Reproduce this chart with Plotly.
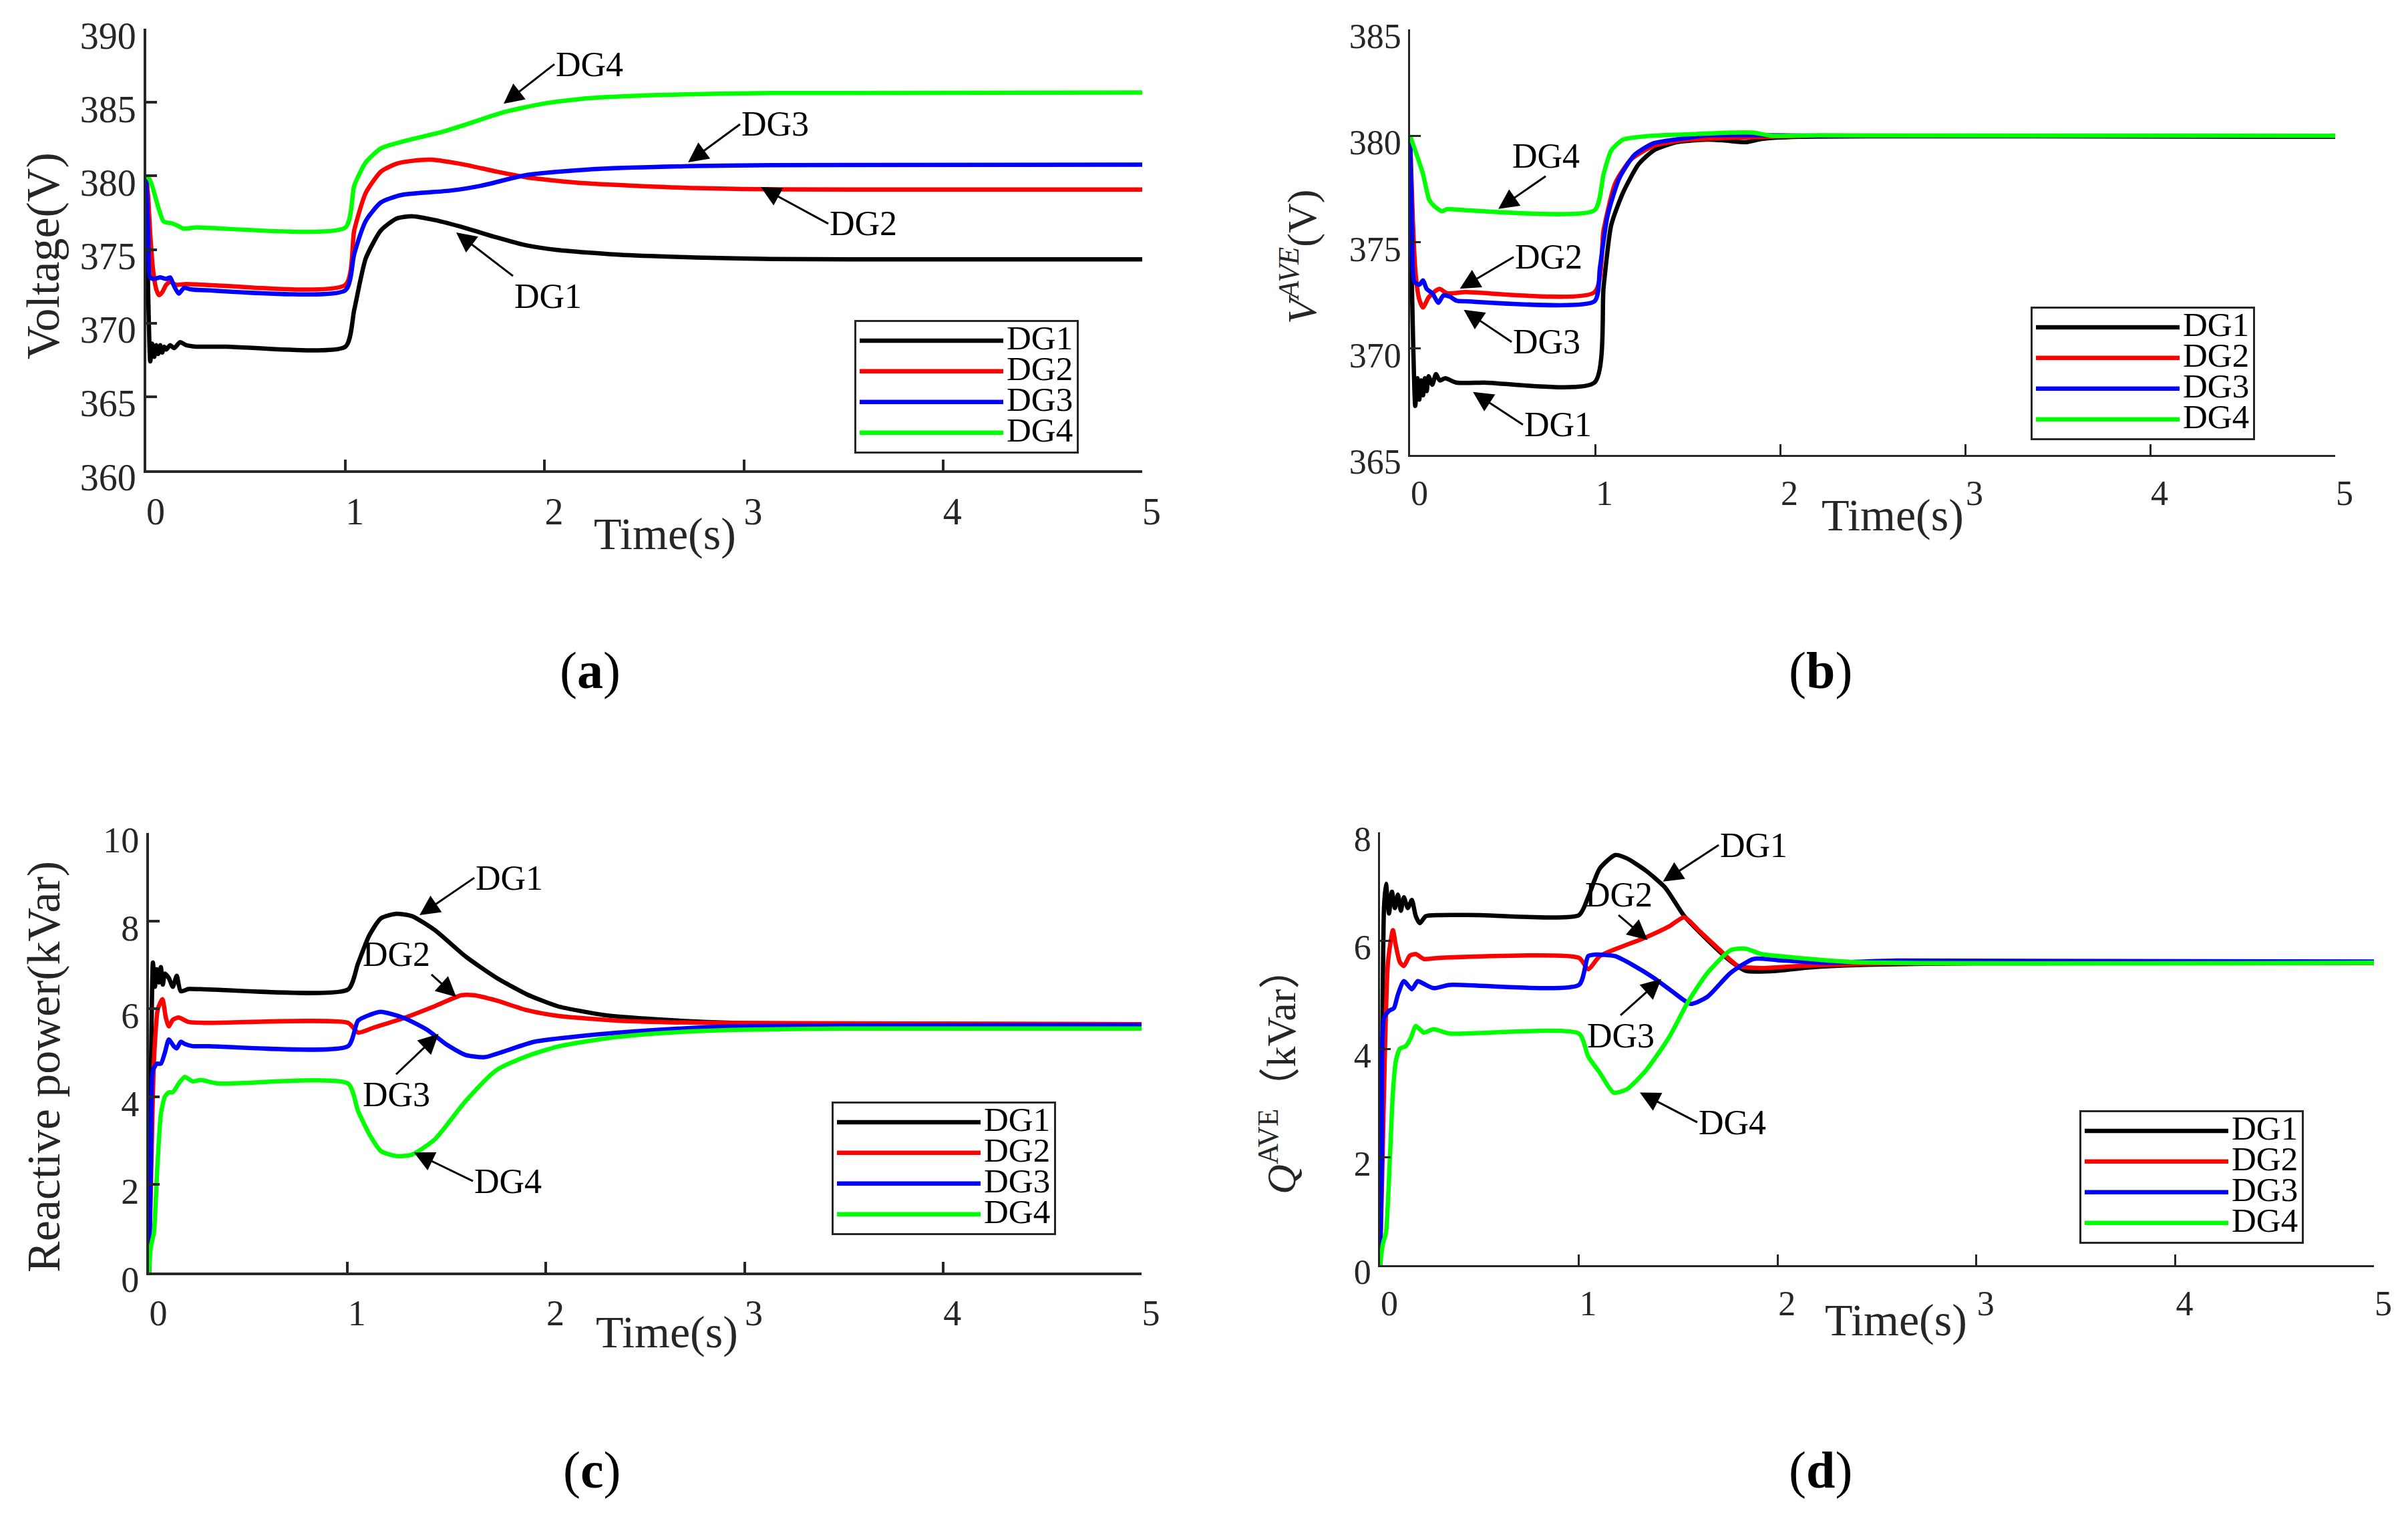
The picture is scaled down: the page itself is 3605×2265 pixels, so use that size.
import plotly.graph_objects as go

W, H = 3605, 2265

# ---------------- data ----------------
names = ["DG1", "DG2", "DG3", "DG4"]
colors = ["#000000", "#FF0000", "#0000FF", "#00FF00"]

# (a) Voltage (V)
t_a1 = [0, 0.008, 0.02, 0.03, 0.04, 0.05, 0.06, 0.07, 0.08, 0.09, 0.1, 0.12, 0.14, 0.17, 0.2, 0.25, 0.4, 1.0,
        1.044, 1.102, 1.178, 1.256, 1.333, 1.448, 1.602, 1.756, 1.91, 2.064, 2.372, 2.757, 3.142, 4.0, 5.0]
v_a1 = [380, 373, 367.4, 368.6, 367.7, 368.5, 367.9, 368.5, 368.0, 368.4, 368.2, 368.5, 368.3, 368.7, 368.5, 368.4, 368.4, 368.4,
        370.9, 374.4, 376.3, 377.1, 377.26, 377.0, 376.46, 375.83, 375.28, 374.97, 374.65, 374.46, 374.35, 374.33, 374.33]
t_a2 = [0, 0.01, 0.02, 0.035, 0.05, 0.064, 0.08, 0.1, 0.12, 0.15, 0.2, 0.3, 1.0,
        1.044, 1.102, 1.178, 1.256, 1.333, 1.43, 1.60, 1.756, 1.91, 2.2, 2.76, 3.2, 5.0]
v_a2 = [380, 378.5, 376, 373.5, 372.3, 371.9, 372.1, 372.6, 372.8, 372.6, 372.65, 372.6, 372.6,
        376.3, 378.85, 380.29, 380.83, 381.02, 381.1, 380.76, 380.3, 379.9, 379.5, 379.17, 379.08, 379.07]
t_a3 = [0, 0.01, 0.019, 0.04, 0.07, 0.1, 0.12, 0.14, 0.163, 0.19, 0.22, 0.3, 1.0,
        1.044, 1.102, 1.178, 1.28, 1.525, 1.68, 1.91, 2.22, 2.76, 3.14, 5.0]
v_a3 = [380, 376, 373.1, 373.0, 373.1, 373.0, 373.1, 372.5, 372.0, 372.4, 372.3, 372.23, 372.23,
        374.7, 376.94, 378.2, 378.7, 379.0, 379.33, 380.06, 380.44, 380.67, 380.73, 380.76]
t_a4 = [0, 0.015, 0.03, 0.064, 0.087, 0.13, 0.16, 0.187, 0.25, 1.0,
        1.044, 1.102, 1.178, 1.294, 1.486, 1.60, 1.795, 1.99, 2.22, 2.57, 3.14, 5.0]
v_a4 = [380, 379.8, 379.3, 377.7, 376.9, 376.77, 376.6, 376.42, 376.5, 376.5,
        379.33, 380.92, 381.87, 382.36, 382.99, 383.47, 384.33, 384.9, 385.28, 385.5, 385.63, 385.66]

# (b) V^AVE (V)
t_b1 = [0, 0.01, 0.028, 0.04, 0.05, 0.06, 0.07, 0.08, 0.09, 0.1, 0.12, 0.14, 0.16, 0.19, 0.25, 0.4, 0.997,
        1.046, 1.087, 1.151, 1.234, 1.317, 1.441, 1.607, 1.7, 1.815, 1.9, 2.1, 5.0]
v_b1 = [380, 373, 367.3, 368.6, 367.6, 368.5, 367.8, 368.6, 368.0, 368.7, 368.3, 368.8, 368.5, 368.6, 368.4, 368.4, 368.4,
        372.9, 375.8, 377.33, 378.65, 379.31, 379.7, 379.82, 379.78, 379.7, 379.85, 379.95, 379.95]
t_b2 = [0, 0.015, 0.03, 0.05, 0.07, 0.1, 0.13, 0.16, 0.2, 0.3, 0.997,
        1.046, 1.109, 1.192, 1.317, 1.483, 1.8, 2.2, 5.0]
v_b2 = [380, 376, 373.5, 372.3, 371.93, 372.4, 372.66, 372.8, 372.6, 372.65, 372.65,
        375.57, 377.77, 378.87, 379.53, 379.8, 379.92, 380.0, 380.0]
t_b3 = [0, 0.01, 0.023, 0.05, 0.07, 0.09, 0.12, 0.153, 0.18, 0.215, 0.25, 0.3, 0.997,
        1.026, 1.067, 1.13, 1.213, 1.317, 1.483, 1.607, 1.815, 2.2, 5.0]
v_b3 = [380, 376, 373.14, 373.0, 373.2, 372.8, 372.6, 372.15, 372.5, 372.44, 372.25, 372.22, 372.22,
        373.8, 376.23, 377.99, 379.1, 379.65, 379.88, 380.02, 380.03, 380.0, 380.0]
t_b4 = [0, 0.028, 0.07, 0.103, 0.13, 0.172, 0.2, 0.3, 0.997,
        1.046, 1.087, 1.151, 1.276, 1.483, 1.732, 1.857, 1.95, 2.2, 5.0]
v_b4 = [380, 379.31, 378.2, 377.0, 376.7, 376.45, 376.55, 376.5, 376.5,
        378.2, 379.3, 379.82, 379.98, 380.06, 380.15, 380.15, 380.0, 380.02, 380.0]

# (c) Reactive power (kVar)
t_c1 = [0, 0.01, 0.02, 0.03, 0.04, 0.05, 0.06, 0.07, 0.08, 0.1, 0.12, 0.14, 0.16, 0.2, 0.3, 1.003,
        1.053, 1.111, 1.169, 1.247, 1.324, 1.44, 1.595, 1.749, 1.903, 2.058, 2.29, 2.56, 2.946, 3.5, 5.0]
q_c1 = [0, 4.5, 7.05, 6.5, 6.9, 6.6, 6.95, 6.55, 6.8, 6.7, 6.5, 6.75, 6.4, 6.45, 6.44, 6.44,
        7.03, 7.68, 8.06, 8.16, 8.11, 7.79, 7.19, 6.71, 6.33, 6.06, 5.86, 5.76, 5.68, 5.66, 5.65]
t_c2 = [0, 0.01, 0.025, 0.045, 0.068, 0.085, 0.1, 0.12, 0.15, 0.2, 0.3, 1.003,
        1.053, 1.131, 1.285, 1.44, 1.575, 1.634, 1.749, 1.903, 2.058, 2.367, 2.8, 5.0]
q_c2 = [0, 2.0, 4.8, 6.0, 6.22, 5.8, 5.6, 5.75, 5.8, 5.7, 5.68, 5.68,
        5.46, 5.57, 5.79, 6.06, 6.31, 6.31, 6.19, 5.97, 5.84, 5.73, 5.68, 5.65]
t_c3 = [0, 0.01, 0.02, 0.04, 0.06, 0.08, 0.1, 0.125, 0.14, 0.16, 0.18, 0.22, 0.3, 1.003,
        1.053, 1.111, 1.169, 1.285, 1.402, 1.498, 1.595, 1.691, 1.788, 1.942, 2.174, 2.56, 2.946, 5.0]
q_c3 = [0, 2.5, 4.6, 4.75, 4.75, 5.0, 5.3, 5.15, 5.1, 5.25, 5.2, 5.15, 5.15, 5.15,
        5.73, 5.86, 5.93, 5.79, 5.52, 5.19, 4.95, 4.9, 5.03, 5.25, 5.38, 5.52, 5.6, 5.63]
t_c4 = [0, 0.01, 0.025, 0.04, 0.06, 0.08, 0.1, 0.12, 0.15, 0.18, 0.22, 0.26, 0.35, 1.003,
        1.053, 1.111, 1.169, 1.247, 1.324, 1.44, 1.595, 1.749, 1.903, 2.058, 2.29, 2.56, 2.946, 3.5, 5.0]
q_c4 = [0, 0.6, 0.9, 2.2, 3.6, 4.0, 4.1, 4.1, 4.3, 4.45, 4.35, 4.38, 4.3, 4.3,
        3.68, 3.14, 2.76, 2.65, 2.68, 3.03, 3.9, 4.6, 4.92, 5.14, 5.32, 5.44, 5.52, 5.55, 5.55]

# (d) Q^AVE (kVar)
t_d1 = [0, 0.01, 0.02, 0.03, 0.045, 0.06, 0.075, 0.09, 0.105, 0.12, 0.14, 0.16, 0.18, 0.2, 0.23, 0.3, 0.5, 1.001,
        1.047, 1.105, 1.183, 1.241, 1.338, 1.434, 1.531, 1.647, 1.763, 1.84, 1.996, 2.15, 2.421, 3.0, 5.0]
q_d1 = [0, 3.5, 6.6, 7.05, 6.5, 6.9, 6.6, 6.85, 6.55, 6.8, 6.6, 6.75, 6.45, 6.32, 6.45, 6.47, 6.47, 6.47,
        6.8, 7.33, 7.58, 7.52, 7.29, 6.98, 6.45, 6.01, 5.62, 5.44, 5.44, 5.5, 5.55, 5.58, 5.59]
t_d2 = [0, 0.01, 0.025, 0.04, 0.065, 0.08, 0.1, 0.12, 0.15, 0.18, 0.22, 0.3, 1.001,
        1.047, 1.105, 1.183, 1.338, 1.454, 1.531, 1.608, 1.705, 1.802, 1.918, 2.112, 2.6, 5.0]
q_d2 = [0, 1.5, 4.0, 5.6, 6.19, 5.9, 5.6, 5.53, 5.72, 5.75, 5.66, 5.68, 5.68,
        5.47, 5.71, 5.84, 6.06, 6.26, 6.43, 6.17, 5.84, 5.53, 5.49, 5.53, 5.58, 5.59]
t_d3 = [0, 0.01, 0.02, 0.045, 0.07, 0.09, 0.12, 0.16, 0.19, 0.22, 0.27, 0.35, 1.001,
        1.047, 1.086, 1.183, 1.28, 1.377, 1.473, 1.563, 1.647, 1.763, 1.879, 1.996, 2.228, 2.6, 5.0]
q_d3 = [0, 2.0, 4.57, 4.7, 4.75, 5.0, 5.25, 5.1, 5.25, 5.2, 5.12, 5.18, 5.18,
        5.71, 5.74, 5.71, 5.53, 5.31, 5.05, 4.83, 4.96, 5.4, 5.66, 5.64, 5.59, 5.63, 5.61]
t_d4 = [0, 0.015, 0.03, 0.05, 0.065, 0.08, 0.1, 0.13, 0.155, 0.18, 0.22, 0.27, 0.35, 1.001,
        1.047, 1.105, 1.175, 1.241, 1.338, 1.454, 1.55, 1.647, 1.763, 1.84, 1.918, 2.073, 2.4, 5.0]
q_d4 = [0, 0.4, 0.6, 2.0, 3.2, 3.78, 4.0, 4.05, 4.2, 4.42, 4.3, 4.36, 4.28, 4.28,
        3.86, 3.56, 3.19, 3.25, 3.6, 4.21, 4.87, 5.4, 5.82, 5.85, 5.75, 5.69, 5.6, 5.59]

x_ticks = [0, 1, 2, 3, 4, 5]
y_ticks_a = [360, 365, 370, 375, 380, 385, 390]
y_ticks_b = [365, 370, 375, 380, 385]
y_ticks_c = [0, 2, 4, 6, 8, 10]
y_ticks_d = [0, 2, 4, 6, 8]

# arrow callouts: (label, head_t, head_y, tail_t, tail_y, text xanchor, text yanchor)
callouts_a = [("DG4", 1.794, 384.9, 2.049, 387.59, "left", "middle"),
              ("DG3", 2.72, 380.92, 2.981, 383.51, "left", "middle"),
              ("DG2", 3.085, 379.24, 3.424, 376.75, "left", "middle"),
              ("DG1", 1.556, 376.16, 1.841, 373.2, "left", "top")]
callouts_b = [("DG4", 0.477, 376.56, 0.733, 378.1, "center", "bottom"),
              ("DG2", 0.269, 372.81, 0.56, 374.3, "left", "middle"),
              ("DG3", 0.29, 371.82, 0.549, 370.31, "left", "middle"),
              ("DG1", 0.34, 367.96, 0.61, 366.42, "left", "middle")]
callouts_c = [("DG1", 1.363, 8.13, 1.639, 8.98, "left", "middle"),
              ("DG2", 1.548, 6.27, 1.423, 6.78, "right", "bottom"),
              ("DG3", 1.459, 5.43, 1.245, 4.51, "center", "top"),
              ("DG4", 1.335, 2.73, 1.632, 2.08, "left", "middle")]
callouts_d = [("DG1", 1.423, 7.09, 1.704, 7.765, "left", "middle"),
              ("DG2", 1.346, 6.01, 1.2, 6.47, "center", "bottom"),
              ("DG3", 1.415, 5.29, 1.21, 4.62, "center", "top"),
              ("DG4", 1.307, 3.19, 1.596, 2.64, "left", "middle")]

# ---------------- layout geometry (pixels in the 3605x2265 page) ----------------
panels = [
    dict(key="a", box=(211, 35, 1702, 696), yr=[360, 390], yt=y_ticks_a, lw=4, tfs=56,
         series=[(t_a1, v_a1), (t_a2, v_a2), (t_a3, v_a3), (t_a4, v_a4)], callouts=callouts_a,
         legend=(1607, 471), ytitle="Voltage(V)", ytitle_pos=(57, 375), ytitle_size=70,
         xtitle_pos=(987, 791), cap_pos=(875, 995)),
    dict(key="b", box=(2103, 36, 3488, 673), yr=[365, 385], yt=y_ticks_b, lw=2.5, tfs=52,
         series=[(t_b1, v_b1), (t_b2, v_b2), (t_b3, v_b3), (t_b4, v_b4)], callouts=callouts_b,
         legend=(3368, 451), ytitle="<i>V</i><sup><i>AVE</i></sup>(V)", ytitle_pos=(1936, 377), ytitle_size=62,
         xtitle_pos=(2825, 763), cap_pos=(2717, 995)),
    dict(key="c", box=(215, 1239, 1701, 1897), yr=[0, 10], yt=y_ticks_c, lw=4, tfs=54,
         series=[(t_c1, q_c1), (t_c2, q_c2), (t_c3, q_c3), (t_c4, q_c4)], callouts=callouts_c,
         legend=(1573, 1641), ytitle="Reactive power(kVar)", ytitle_pos=(57, 1589), ytitle_size=70,
         xtitle_pos=(990, 1986), cap_pos=(878, 2192)),
    dict(key="d", box=(2058, 1238, 3546, 1886), yr=[0, 8], yt=y_ticks_d, lw=2.5, tfs=52,
         series=[(t_d1, q_d1), (t_d2, q_d2), (t_d3, q_d3), (t_d4, q_d4)], callouts=callouts_d,
         legend=(3441, 1654), ytitle="<i>Q</i><sup>AVE</sup>（kVar）", ytitle_pos=(1905, 1596), ytitle_size=62,
         xtitle_pos=(2830, 1968), cap_pos=(2717, 2192)),
]

SERIF = "Liberation Serif, Times New Roman, serif"
AXC = "#262626"

fig = go.Figure()
layout = dict(width=W, height=H, margin=dict(l=0, r=0, t=0, b=0, autoexpand=False),
              paper_bgcolor="white", plot_bgcolor="white", showlegend=True)
annotations = []


def px(xp):
    return xp / W


def py(yp):
    return 1 - yp / H


for i, p in enumerate(panels):
    n = "" if i == 0 else str(i + 1)
    xa, ya = "x" + n, "y" + n
    leg = "legend" + n
    x0, y0, x1, y1 = p["box"]
    for k, (tt, vv) in enumerate(p["series"]):
        fig.add_trace(go.Scatter(
            x=tt, y=vv, mode="lines", xaxis=xa, yaxis=ya, legend=leg,
            name='<span style="font-size:51px">%s</span>' % names[k],
            line=dict(color=colors[k], width=6.5, shape="spline", smoothing=0.6),
            hoverinfo="skip"))
    common = dict(showline=True, linecolor=AXC, linewidth=p["lw"], ticks="inside", ticklen=16,
                  tickwidth=p["lw"], tickcolor=AXC, showgrid=False, zeroline=False, mirror=False,
                  ticklabeloverflow="allow",
                  tickfont=dict(family=SERIF, size=p["tfs"], color=AXC))
    layout["xaxis" + n] = dict(common, domain=[px(x0), px(x1)], range=[0, 5], tickvals=x_ticks,
                               anchor=ya, ticklabelstandoff=10, ticklabelshift=14)
    layout["yaxis" + n] = dict(common, domain=[py(y1), py(y0)], range=p["yr"], tickvals=p["yt"],
                               anchor=xa, ticklabelshift=10)
    lx, ly = p["legend"]
    layout[leg] = dict(x=px(lx), y=py(ly), xanchor="right", yanchor="top", bgcolor="white",
                       bordercolor=AXC, borderwidth=3, itemwidth=215, tracegroupgap=0,
                       font=dict(family=SERIF, size=33, color="black"))
    # callouts (text sits at the arrow tail)
    for (lab, hx, hy, tx, ty, xan, yan) in p["callouts"]:
        annotations.append(dict(xref=xa, yref=ya, axref=xa, ayref=ya, x=hx, y=hy, ax=tx, ay=ty,
                                text=lab, xanchor=xan, yanchor=yan, showarrow=True,
                                arrowhead=2, arrowsize=2.0, arrowwidth=3, arrowcolor="black",
                                standoff=0, startstandoff=0,
                                font=dict(family=SERIF, size=52, color="black")))
    # axis titles and caption
    tx_, ty_ = p["ytitle_pos"]
    annotations.append(dict(xref="paper", yref="paper", x=px(tx_), y=py(ty_), text=p["ytitle"],
                            xanchor="center", yanchor="middle", textangle=-90, showarrow=False,
                            font=dict(family=SERIF + ", Noto Sans CJK SC", size=p["ytitle_size"], color=AXC)))
    tx_, ty_ = p["xtitle_pos"]
    annotations.append(dict(xref="paper", yref="paper", x=px(tx_), y=py(ty_), text="Time(s)",
                            xanchor="center", yanchor="middle", showarrow=False,
                            font=dict(family=SERIF, size=68, color=AXC)))
    tx_, ty_ = p["cap_pos"]
    annotations.append(dict(xref="paper", yref="paper", x=px(tx_), y=py(ty_),
                            text="(<b>%s</b>)" % p["key"], xanchor="center", yanchor="middle",
                            showarrow=False, font=dict(family=SERIF, size=78, color="black")))

layout["annotations"] = annotations
fig.update_layout(**layout)
fig.write_html("out.html")
